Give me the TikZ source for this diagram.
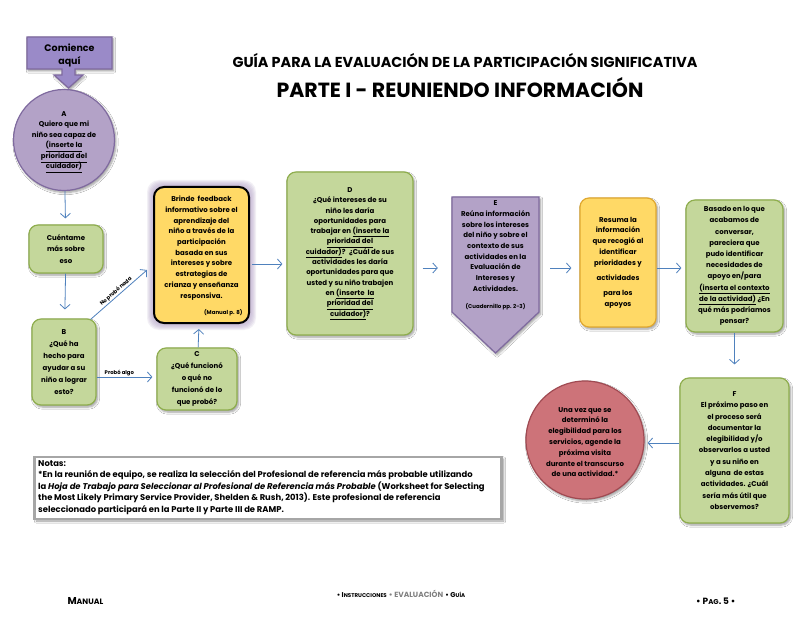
\documentclass[tikz,border=0pt]{standalone}
\usepackage{fontspec}
\setmainfont{Poppins}
\usetikzlibrary{arrows.meta,shadows.blur,calc}
\definecolor{grnF}{HTML}{C4D79B}
\definecolor{grnD}{HTML}{8FAE4E}
\definecolor{purF}{HTML}{B3A2C7}
\definecolor{purD}{HTML}{7F6A9F}
\definecolor{purS}{HTML}{9A8AC8}
\definecolor{yelF}{HTML}{FFD966}
\definecolor{yelD}{HTML}{E0A830}
\definecolor{redF}{HTML}{CD7379}
\definecolor{redD}{HTML}{A04A52}
\definecolor{arr}{HTML}{4F81BD}
\tikzset{
  boxtext/.style={font=\bfseries\fontsize{7}{10.7}\selectfont, align=center},
  shd/.style={blur shadow={shadow xshift=1.5pt, shadow yshift=-2pt, shadow blur steps=6, shadow opacity=40}},
  gbox/.style={rectangle, rounded corners=9pt, fill=grnF, draw=grnD, line width=1.2pt, shd, inner sep=0pt, boxtext},
  ybox/.style={rectangle, rounded corners=9pt, fill=yelF, draw=yelD, line width=1.2pt, shd, inner sep=0pt, boxtext},
  conn/.style={draw=arr, line width=0.8pt, -{Straight Barb[length=4.5pt,width=10pt]}},
  lbl/.style={font=\bfseries\fontsize{5.3}{5.3}\selectfont, inner sep=1pt},
}
\begin{document}
\begin{tikzpicture}[x=1pt,y=-1pt]
\useasboundingbox (0,0) rectangle (804,623);
\fill[white] (0,0) rectangle (804,623);

% titles
\node[font=\bfseries\fontsize{14.4}{16}\selectfont] (t1) at (465,61) {GUÍA PARA LA EVALUACIÓN DE LA PARTICIPACIÓN SIGNIFICATIVA};
\node[font=\bfseries\fontsize{20.5}{24}\selectfont] (t2) at (460,88) {PARTE I - REUNIENDO INFORMACIÓN};

% start callout
\path[fill=purS, draw=purD, line width=1.2pt, shd]
  (27,37) -- (112,37) -- (112,69) -- (75,69) -- (75,75) -- (83,75) -- (68.5,88) -- (54,75) -- (62,75) -- (62,69) -- (27,69) -- cycle;
\node[font=\bfseries\fontsize{9.5}{13}\selectfont, align=center] (start) at (69.5,55) {Comience\\aquí};

% A circle
\node[circle, minimum size=101pt, fill=purF, draw=purD, line width=1.2pt, shd] (A) at (64,140) {};
\node[boxtext, font=\bfseries\fontsize{7}{10.5}\selectfont] (At) at (64,142) {A\\Quiero que mi\\niño sea capaz de\\\underline{(inserte la}\\\underline{prioridad del}\\\underline{cuidador)}};

% Cuentame
\node[gbox, minimum width=74pt, minimum height=48pt, font=\bfseries\fontsize{7}{11.5}\selectfont] (Cu) at (66,249) {Cuéntame\\más sobre\\eso};

% B
\node[gbox, minimum width=64pt, minimum height=86pt, font=\bfseries\fontsize{7}{12}\selectfont] (B) at (64,362) {B\\¿Qué ha\\hecho para\\ayudar a su\\niño a lograr\\esto?};

% C
\node[gbox, minimum width=80pt, minimum height=62pt, font=\bfseries\fontsize{7}{12}\selectfont] (C) at (197,379) {C\\¿Qué funcionó\\o qué no\\funcionó de lo\\que probó?};

% Yellow feedback box with glow
\foreach \i in {1,...,7}{
  \fill[purF, opacity=0.16, rounded corners=12pt] ($(154,187)+(-\i,-\i)$) rectangle ($(249,323)+(\i,\i)$);
}
\node[rectangle, rounded corners=10pt, fill=yelF, draw=black, line width=2pt, minimum width=95pt, minimum height=136pt, inner sep=0pt] (Y) at (201.5,255) {};
\node[boxtext] (Yt) at (201.5,248) {Brinde~ feedback\\informativo sobre el\\aprendizaje del\\niño a través de la\\participación\\basada en sus\\intereses y sobre\\estrategias de\\crianza y enseñanza\\responsiva.};
\node[font=\bfseries\fontsize{5.5}{6}\selectfont, anchor=east] (Ym) at (246,313) {(Manual p. 8)};

% D
\node[gbox, minimum width=126pt, minimum height=163pt, font=\bfseries\fontsize{7}{10.3}\selectfont] (D) at (350,253.5) {D\\¿Qué intereses de su\\niño les daría\\oportunidades para\\trabajar en \underline{(inserte la}\\\underline{prioridad del}\\\underline{cuidador)}?~ ¿Cuál de sus\\actividades les daría\\oportunidades para que\\usted y su niño trabajen\\en \underline{(inserte~ la}\\\underline{prioridad del}\\\underline{cuidador)}?};

% E pentagon
\path[fill=purF, draw=purD, line width=1.2pt, shd] (452,197) -- (539,197) -- (539,312) -- (495.5,353) -- (452,312) -- cycle;
\node[minimum width=87pt, minimum height=115pt, inner sep=0pt] (E) at (495.5,254.5) {};
\node[boxtext] (Et) at (495.5,246) {E\\Reúna información\\sobre los intereses\\del niño y sobre el\\contexto de sus\\actividades en la\\Evaluación de\\Intereses y\\Actividades.};
\node[font=\bfseries\fontsize{5.5}{6}\selectfont] (Ec) at (495.5,307) {(Cuadernillo pp. 2-3)};

% Resume
\node[ybox, minimum width=76pt, minimum height=129pt] (R) at (618,262.5) {Resuma la\\información\\que recogió al\\identificar\\prioridades y\\[5pt]actividades\\[4pt]para los\\apoyos};

% Basado
\node[gbox, minimum width=97pt, minimum height=132pt, font=\bfseries\fontsize{7}{11.2}\selectfont] (Ba) at (734.5,266) {Basado en lo que\\acabamos de\\conversar,\\pareciera que\\pudo identificar\\necesidades de\\apoyo en/para\\\underline{(inserta el contexto}\\\underline{de la actividad)} ¿En\\qué más podríamos\\pensar?};

% F
\node[gbox, minimum width=109pt, minimum height=145pt, font=\bfseries\fontsize{7}{11.3}\selectfont] (F) at (734.5,450.5) {F\\El próximo paso en\\el proceso será\\documentar la\\elegibilidad y/o\\observarlos a usted\\y a su niño en\\alguna~ de estas\\actividades. ¿Cuál\\sería más útil que\\observemos?};

% Red circle
\node[circle, minimum size=118pt, fill=redF, draw=redD, line width=1.2pt, shd] (Rc) at (585,440) {};
\node[boxtext, font=\bfseries\fontsize{7}{10.8}\selectfont] (Rct) at (585,442) {Una vez que se\\determinó la\\elegibilidad para los\\servicios, agende la\\próxima visita\\durante el transcurso\\de una actividad.*};

% Notes
\node[rectangle, draw=gray!70, line width=2.2pt, fill=white, minimum width=467pt, minimum height=62pt, blur shadow={shadow xshift=2pt, shadow yshift=-2pt, shadow blur steps=6}] (N) at (268,488) {};
\node[anchor=north west, align=left, font=\bfseries\fontsize{8.4}{11.5}\selectfont, inner sep=0pt] (Nt) at (38,460) {Notas:\\
*En la reunión de equipo, se realiza la selección del Profesional de referencia más probable utilizando\\
la \textit{Hoja de Trabajo para Seleccionar al Profesional de Referencia más Probable} (Worksheet for Selecting\\
the Most Likely Primary Service Provider, Shelden \& Rush, 2013). Este profesional de referencia\\
seleccionado participará en la Parte II y Parte III de RAMP.};

% connectors
\draw[conn, shorten >=6pt] (A) -- (Cu);
\draw[conn, shorten >=9pt] (Cu) -- (B);
\draw[conn, shorten >=4pt] ($(B.east)+(0,15)$) -- ($(C.west)+(0,-2)$) node[lbl, pos=0.38, above] (lp) {Probó algo};
\draw[conn] ($(B.north east)+(-6,1)$) -- ($(Y.west)+(-6,15)$) node[lbl, midway, sloped, above] (ln) {No probó nada};
\draw[conn, shorten >=5pt] (C) -- (Y);
\draw[conn, shorten >=4pt] ($(Y.east)+(2,9)$) -- ($(D.west)+(0,10.5)$);
\draw[conn, shorten >=14pt, shorten <=9pt] ($(D.east)+(0,14.5)$) -- ($(E.west)+(0,13.5)$);
\draw[conn, shorten >=8pt, shorten <=11pt] ($(E.east)+(0,13.5)$) -- ($(R.west)+(0,5.5)$);
\draw[conn, shorten >=4pt] ($(R.east)+(0,5.5)$) -- ($(Ba.west)+(0,2)$);
\draw[conn, shorten >=13pt] (Ba) -- (F);
\draw[conn, shorten >=3pt] ($(F.west)+(0,-7.5)$) -- ($(Rc.east)+(0,3)$);

% footer
\node[anchor=west, font=\bfseries] (fm) at (64,601) {{\fontsize{10}{10}\selectfont M}{\fontsize{7.8}{7.8}\selectfont ANUAL}};
\node[font=\bfseries] (fc) at (401,594) {{\fontsize{7}{7}\selectfont • I}{\fontsize{5.5}{5.5}\selectfont NSTRUCCIONES} {\fontsize{7.5}{7.5}\selectfont\color{gray}• EVALUACIÓN} {\fontsize{7}{7}\selectfont • G}{\fontsize{5.5}{5.5}\selectfont UÍA}};
\node[anchor=east, font=\bfseries] (fp) at (739,601) {{\fontsize{9}{9}\selectfont • P}{\fontsize{7}{7}\selectfont AG}{\fontsize{9}{9}\selectfont . 5 •}};
\end{tikzpicture}
\end{document}
